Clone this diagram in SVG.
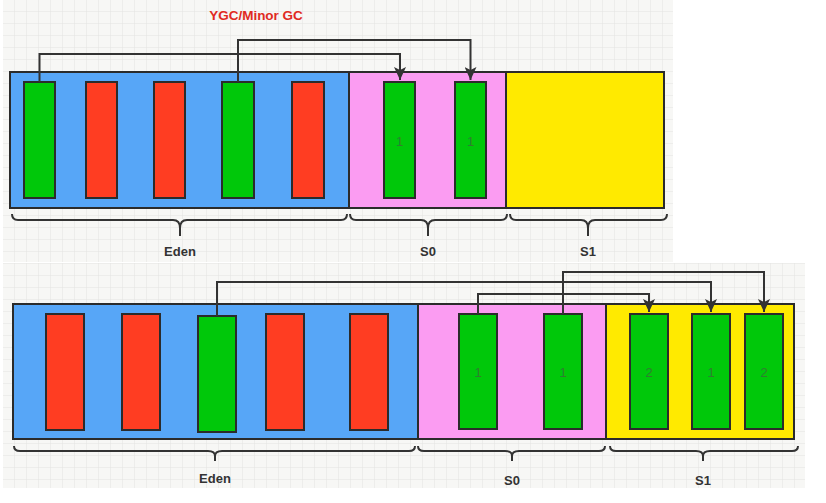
<svg xmlns="http://www.w3.org/2000/svg" width="826" height="503" viewBox="0 0 826 503">
<defs>
<pattern id="grid" x="3" y="0" width="12" height="12" patternUnits="userSpaceOnUse">
<rect width="12" height="12" fill="#f7f7f5"/>
<path d="M12 0V12M0 12H12" fill="none" stroke="#e4e4e2" stroke-width="1"/>
</pattern>
<marker id="ah" viewBox="0 0 12 13" refX="6" refY="13" markerWidth="12" markerHeight="13" markerUnits="userSpaceOnUse" orient="0">
<path d="M0 0L6 13L12 0L6 3Z" fill="#333"/>
</marker>
</defs>
<style>
.eden{fill:#57a6f7;stroke:#2b2b2b;stroke-width:2}
.s0{fill:#fb9cf2;stroke:#2b2b2b;stroke-width:2}
.s1{fill:#ffea00;stroke:#2b2b2b;stroke-width:2}
.g{fill:#00c80a;stroke:#2b2b2b;stroke-width:2}
.r{fill:#ff3d22;stroke:#2b2b2b;stroke-width:2}
.num{font-family:"Liberation Sans",Arial,sans-serif;font-size:13px;fill:#2f7f2f;text-anchor:middle;dominant-baseline:central}
.lbl{font-family:"Liberation Sans",Arial,sans-serif;font-size:13px;font-weight:bold;fill:#333;text-anchor:middle;dominant-baseline:central}
.brace{fill:none;stroke:#333;stroke-width:2}
.conn{fill:none;stroke:#333;stroke-width:2}
</style>
<rect width="826" height="503" fill="#ffffff"/>
<rect x="3" y="0" width="670" height="262" fill="url(#grid)"/>
<rect x="3" y="263" width="802" height="225" fill="url(#grid)"/>

<text x="256" y="15" font-family="Liberation Sans,Arial,sans-serif" font-size="13.5" font-weight="bold" fill="#e02a22" text-anchor="middle" dominant-baseline="central">YGC/Minor GC</text>

<g id="top-eden"><rect class="eden" x="10" y="72" width="339" height="136"/></g>
<g id="top-s0"><rect class="s0" x="349" y="72" width="157" height="136"/></g>
<g id="top-s1"><rect class="s1" x="506" y="72" width="158" height="136"/></g>

<g id="t-e1"><rect class="g" x="24" y="82" width="31" height="116"/></g>
<g id="t-e2"><rect class="r" x="86" y="82" width="31" height="116"/></g>
<g id="t-e3"><rect class="r" x="154" y="82" width="31" height="116"/></g>
<g id="t-e4"><rect class="g" x="222" y="82" width="32" height="116"/></g>
<g id="t-e5"><rect class="r" x="292" y="82" width="32" height="116"/></g>
<g id="t-s0a"><rect class="g" x="384" y="82" width="31" height="116"/><text class="num" x="399.5" y="141">1</text></g>
<g id="t-s0b"><rect class="g" x="455" y="82" width="31" height="116"/><text class="num" x="470.5" y="141">1</text></g>

<g id="top-braces">
<path class="brace" d="M12 214q0 6 6 6H173q7 0 7 8v8M180 236v-8q0-8 7-8H341q6 0 6-6"/>
<path class="brace" d="M350 214q0 6 6 6H421q7 0 7 8v8M428 236v-8q0-8 7-8H501q6 0 6-6"/>
<path class="brace" d="M510 214q0 6 6 6H581q7 0 7 8v8M588 236v-8q0-8 7-8H661q6 0 6-6"/>
<text class="lbl" x="180" y="251">Eden</text>
<text class="lbl" x="428" y="251">S0</text>
<text class="lbl" x="588" y="251">S1</text>
</g>

<g id="b-eden"><rect class="eden" x="13" y="304" width="405" height="135"/></g>
<g id="b-s0"><rect class="s0" x="418" y="304" width="188" height="135"/></g>
<g id="b-s1"><rect class="s1" x="606" y="304" width="188" height="135"/></g>

<g id="b-e1"><rect class="r" x="46" y="314" width="38" height="116"/></g>
<g id="b-e2"><rect class="r" x="122" y="314" width="38" height="116"/></g>
<g id="b-e3"><rect class="g" x="198" y="316" width="38" height="116"/></g>
<g id="b-e4"><rect class="r" x="266" y="314" width="38" height="116"/></g>
<g id="b-e5"><rect class="r" x="350" y="314" width="38" height="116"/></g>
<g id="b-s0a"><rect class="g" x="459" y="314" width="38" height="115"/><text class="num" x="478" y="372">1</text></g>
<g id="b-s0b"><rect class="g" x="544" y="314" width="38" height="115"/><text class="num" x="563" y="372">1</text></g>
<g id="b-s1a"><rect class="g" x="630" y="314" width="38" height="115"/><text class="num" x="649" y="372">2</text></g>
<g id="b-s1b"><rect class="g" x="692" y="314" width="38" height="115"/><text class="num" x="711" y="372">1</text></g>
<g id="b-s1c"><rect class="g" x="745" y="314" width="38" height="115"/><text class="num" x="764" y="372">2</text></g>

<g id="bottom-braces">
<path class="brace" d="M14 446q0 5 6 5H208q7 0 7 5v5M215 461v-5q0-5 7-5H409q6 0 6-5"/>
<path class="brace" d="M418 446q0 5 6 5H505q7 0 7 5v5M512 461v-5q0-5 7-5H599q6 0 6-5"/>
<path class="brace" d="M610 446q0 5 6 5H696q7 0 7 5v5M703 461v-5q0-5 7-5H792q6 0 6-5"/>
<text class="lbl" x="215" y="478">Eden</text>
<text class="lbl" x="512" y="480">S0</text>
<text class="lbl" x="703" y="480">S1</text>
</g>

<g id="connectors">
<path class="conn" d="M39.5 82V54H400V80" marker-end="url(#ah)"/>
<path class="conn" d="M238 82V40H470.5V80" marker-end="url(#ah)"/>
<path class="conn" d="M217 316V282H711V312" marker-end="url(#ah)"/>
<path class="conn" d="M478 314V294H649V312" marker-end="url(#ah)"/>
<path class="conn" d="M563 314V272H764V312" marker-end="url(#ah)"/>
</g>
</svg>
